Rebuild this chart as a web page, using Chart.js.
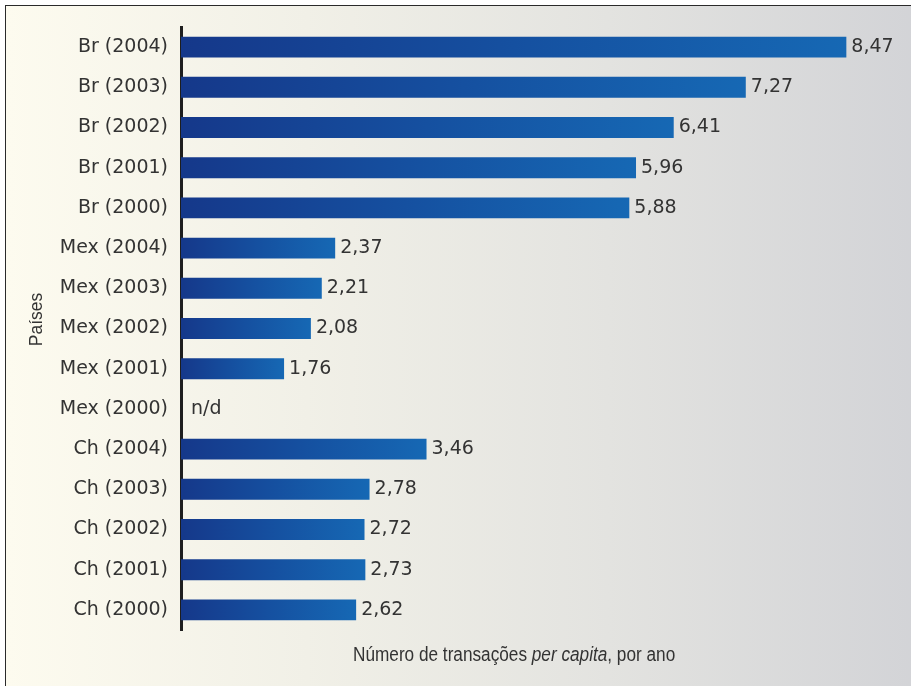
<!DOCTYPE html>
<html>
<head>
<meta charset="utf-8">
<script src="https://cdn.jsdelivr.net/npm/chart.js@4.4.1/dist/chart.umd.min.js"></script>
<style>
  html, body { margin: 0; padding: 0; background: #ffffff; overflow: hidden; }
  #frame {
    position: absolute; left: 5px; top: 5px; width: 940px; height: 720px;
    border-left: 1.5px solid #2a2a2a; border-top: 1.5px solid #2a2a2a;
    background: linear-gradient(to right, #fdfbef 0%, #f1f0e7 32%, #e3e3e0 64%, #d1d2d6 100%);
  }
  #wrap { position: absolute; left: 0; top: 0; width: 911px; height: 686px; }
</style>
</head>
<body>
<div id="frame"></div>
<div id="wrap"><canvas id="chart"></canvas></div>
<script>
// Transações per capita por país e ano
const categories = [
  'Br (2004)', 'Br (2003)', 'Br (2002)', 'Br (2001)', 'Br (2000)',
  'Mex (2004)', 'Mex (2003)', 'Mex (2002)', 'Mex (2001)', 'Mex (2000)',
  'Ch (2004)', 'Ch (2003)', 'Ch (2002)', 'Ch (2001)', 'Ch (2000)'
];
const transacoes = [
  8.47, 7.27, 6.41, 5.96, 5.88,
  2.37, 2.21, 2.08, 1.76, null,
  3.46, 2.78, 2.72, 2.73, 2.62
];
const xTitleParts = [
  ['Número de transações ', false],
  ['per capita', true],
  [', por ano', false]
];
const yTitle = 'Países';
const missingLabel = 'n/d';

const X_MIN = 0.53;
const X_MAX = 9.17;
const TEXT = '#333333';
const LABEL_FONT = '19px "DejaVu Sans"';

const fmt = v => v.toFixed(2).replace('.', ',');

// Each bar fades from navy at its base to a lighter blue at its end
function barGradient(context) {
  const chart = context.chart;
  if (!chart.chartArea) return '#1a4f9c';
  const v = context.raw;
  if (v == null) return 'rgba(0,0,0,0)';
  const xs = chart.scales.x;
  const x0 = xs.getPixelForValue(X_MIN);
  const x1 = xs.getPixelForValue(v);
  const g = chart.ctx.createLinearGradient(x0, 0, x1, 0);
  g.addColorStop(0, '#15388a');
  g.addColorStop(0.5, '#1550a0');
  g.addColorStop(1, '#1668b4');
  return g;
}

const valueLabels = {
  id: 'valueLabels',
  afterDatasetsDraw(chart) {
    const { ctx } = chart;
    const xs = chart.scales.x, ys = chart.scales.y;
    ctx.save();
    ctx.font = LABEL_FONT;
    ctx.fillStyle = TEXT;
    ctx.textAlign = 'left';
    ctx.textBaseline = 'middle';
    transacoes.forEach((v, i) => {
      const y = ys.getPixelForValue(i);
      if (v == null) {
        ctx.fillText(missingLabel, xs.getPixelForValue(X_MIN) + 10, y);
      } else {
        ctx.fillText(fmt(v), xs.getPixelForValue(v) + 5, y);
      }
    });
    ctx.restore();
  }
};

const axisTitles = {
  id: 'axisTitles',
  afterDraw(chart) {
    const { ctx, chartArea } = chart;
    ctx.save();
    ctx.fillStyle = TEXT;
    // horizontal title with an italic phrase
    ctx.translate(chartArea.left + 172, chartArea.bottom + 31);
    ctx.scale(0.86, 1);
    ctx.textBaseline = 'alphabetic';
    ctx.textAlign = 'left';
    let x = 0;
    xTitleParts.forEach(([txt, italic]) => {
      ctx.font = (italic ? 'italic ' : '') + '20px "Liberation Sans"';
      ctx.fillText(txt, x, 0);
      x += ctx.measureText(txt).width;
    });
    ctx.restore();

    // vertical title
    ctx.save();
    ctx.fillStyle = TEXT;
    ctx.translate(37, (chartArea.top + chartArea.bottom) / 2 - 9);
    ctx.rotate(-Math.PI / 2);
    ctx.scale(0.92, 1);
    ctx.font = '19px "Liberation Sans"';
    ctx.textAlign = 'center';
    ctx.textBaseline = 'middle';
    ctx.fillText(yTitle, 0, 0);
    ctx.restore();
  }
};

new Chart(document.getElementById('chart'), {
  type: 'bar',
  data: {
    labels: categories,
    datasets: [{
      data: transacoes,
      backgroundColor: barGradient,
      borderWidth: 0,
      categoryPercentage: 1,
      barPercentage: 0.52
    }]
  },
  options: {
    indexAxis: 'y',
    responsive: true,
    maintainAspectRatio: false,
    animation: false,
    devicePixelRatio: 1,
    layout: { padding: { top: 27, bottom: 56, left: 0, right: 6 } },
    plugins: { legend: { display: false }, tooltip: { enabled: false } },
    scales: {
      x: {
        type: 'linear',
        min: X_MIN,
        max: X_MAX,
        display: false
      },
      y: {
        grid: { display: false, drawTicks: false },
        border: { display: true, color: '#1e1e1e', width: 3 },
        ticks: { color: TEXT, font: { family: 'DejaVu Sans', size: 19 }, padding: 13 },
        afterFit(scale) { scale.width = 181; }
      }
    }
  },
  plugins: [valueLabels, axisTitles]
});
</script>
</body>
</html>
